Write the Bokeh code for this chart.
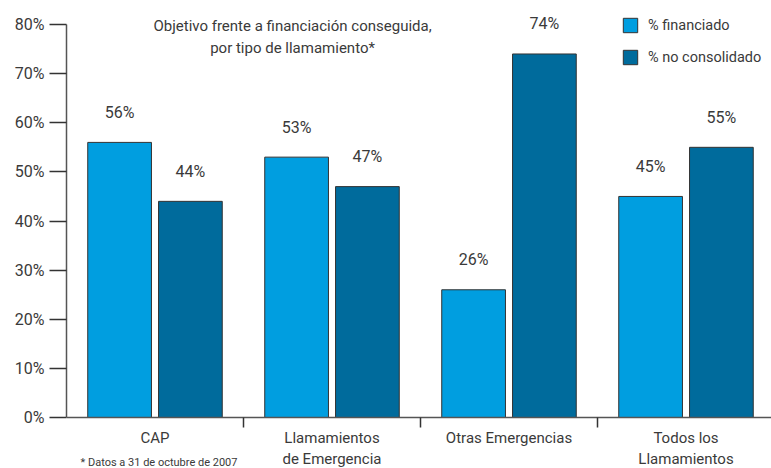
from bokeh.plotting import figure
from bokeh.models import (Range1d, FixedTicker, PrintfTickFormatter, Label, Legend, LegendItem,
                          ColumnDataSource)
from bokeh.core.properties import value
from bokeh.embed import file_html
from bokeh.resources import INLINE

categories = ["CAP", "Llamamientos\nde Emergencia", "Otras Emergencias", "Todos los\nLlamamientos"]
financiado = [56, 53, 26, 45]
no_consolidado = [44, 47, 74, 55]
y_ticks = [0, 10, 20, 30, 40, 50, 60, 70, 80]

FONT = "Roboto"
TXT = "#3a3a3a"
LIGHT = "#009ee0"
DARK = "#006b9c"

n = len(categories)
centers = [i + 0.5 for i in range(n)]
x_fin = [c - 0.2 for c in centers]
x_nc = [c + 0.2 for c in centers]

PXU = 4.9125  # pixels per percent
p = figure(width=771, height=468, output_backend="svg", toolbar_location=None,
           x_range=Range1d(0, 705 / 177), y_range=Range1d(-51 / PXU, 80 + 16 / PXU),
           min_border_left=66, min_border_right=0, min_border_top=8, min_border_bottom=0)
p.frame_width = 705
p.frame_height = 460
p.outline_line_color = None
p.xgrid.visible = False
p.ygrid.visible = False

src_f = ColumnDataSource(dict(x=x_fin, top=financiado, lab=[f"{v}%" for v in financiado]))
src_n = ColumnDataSource(dict(x=x_nc, top=no_consolidado, lab=[f"{v}%" for v in no_consolidado]))

r1 = p.vbar(x="x", top="top", width=0.36, source=src_f, fill_color=LIGHT,
            line_color="#333333", line_width=1)
r2 = p.vbar(x="x", top="top", width=0.36, source=src_n, fill_color=DARK,
            line_color="#333333", line_width=1)

for src in (src_f, src_n):
    p.text(x="x", y="top", text="lab", source=src, y_offset=-30, text_align="center",
           text_baseline="middle", text_font=value(FONT), text_font_size="16px", text_color=TXT)

# y axis
ya = p.yaxis[0]
ya.ticker = FixedTicker(ticks=y_ticks)
ya.formatter = PrintfTickFormatter(format="%d%%")
ya.bounds = (0, 80)
ya.major_tick_out = 17
ya.major_tick_in = 0
ya.minor_tick_out = 0
ya.minor_tick_in = 0
ya.major_label_standoff = 5
ya.axis_line_color = "#555555"
ya.axis_line_width = 1.5
ya.major_tick_line_color = "#333333"
ya.major_tick_line_width = 1.5
ya.major_label_text_font = FONT
ya.major_label_text_font_size = "16px"
ya.major_label_text_color = TXT

# x axis (drawn at y = 0)
xa = p.xaxis[0]
xa.fixed_location = 0
xa.ticker = FixedTicker(ticks=centers, minor_ticks=[1, 2, 3])
xa.major_label_overrides = {c: lab for c, lab in zip(centers, categories)}
xa.major_tick_out = 0
xa.major_tick_in = 0
xa.minor_tick_out = 10
xa.minor_tick_in = 0
xa.minor_tick_line_color = "#333333"
xa.minor_tick_line_width = 1.5
xa.major_label_standoff = 1
xa.axis_line_color = "#555555"
xa.axis_line_width = 1.5
xa.major_label_text_font = FONT
xa.major_label_text_font_size = "15px"
xa.major_label_text_color = TXT

# title lines
p.add_layout(Label(x=1.277, y=79.6, text="Objetivo frente a financiación conseguida,",
                   text_align="center", text_baseline="middle", text_font=FONT,
                   text_font_size="15px", text_color=TXT))
p.add_layout(Label(x=1.277, y=75.3, text="por tipo de llamamiento*",
                   text_align="center", text_baseline="middle", text_font=FONT,
                   text_font_size="15px", text_color=TXT))

# footnote
p.add_layout(Label(x=0.079, y=-9.16, text="* Datos a 31 de octubre de 2007",
                   text_align="left", text_baseline="middle", text_font=FONT,
                   text_font_size="11px", text_color=TXT))

legend = Legend(items=[LegendItem(label="% financiado", renderers=[r1]),
                       LegendItem(label="% no consolidado", renderers=[r2])],
                location=(555, 402), border_line_color=None, background_fill_alpha=0,
                padding=0, margin=0, spacing=14, glyph_width=18, glyph_height=18,
                label_height=18, label_standoff=9, label_text_font=FONT,
                label_text_font_size="14.5px", label_text_color=TXT)
p.add_layout(legend)

open("out.html", "w").write(file_html(p, INLINE))
